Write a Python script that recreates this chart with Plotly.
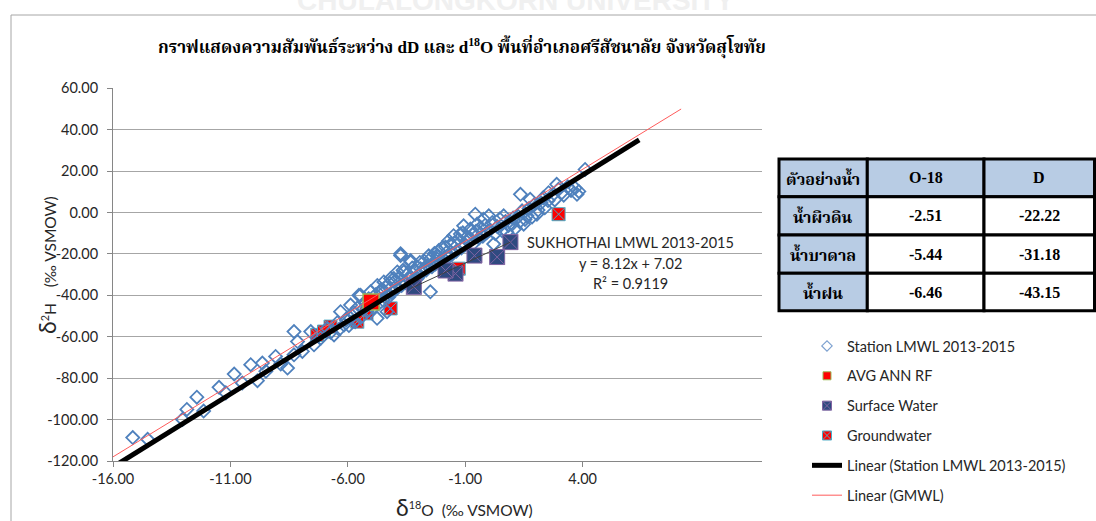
import plotly.graph_objects as go

W, H = 1096, 521

# ---------------- data ----------------
station_o18 = [
    -15.27, -14.72, -13.43, -13.27, -12.90, -12.65, -12.08, -11.83, -11.52, -11.22,
    -10.91, -10.66, -10.35, -10.48, -9.99, -9.80, -9.55, -9.31, -9.18, -9.31,
    -9.00, -8.69, -8.57, -8.32, -8.08, -7.83, -7.59, -7.46, -7.22, -6.91,
    -6.73, -6.24, -5.87, -5.37, -5.00, -5.62, -5.25, -4.76, -4.27, -4.51,
    -4.02, -5.87, -6.11,
    1.45, 1.15, 1.22, 0.40, 0.59, 0.10, -0.09, -0.33, -0.58, -0.70,
    -0.94, -0.82, -1.25, -1.56, -1.44, -1.93, -2.11, -2.30, -2.61, -2.54,
    -2.79, -3.04, -3.16, -3.41, -3.59, -3.71, -3.96, -4.02, -4.27, -4.39,
    -4.63, -5.00, -5.37, -5.49, -5.74, -5.99, -6.23, -6.48, -6.85, -7.22,
    -7.95, -7.71, -7.64, -7.38, -7.28, -7.12, -7.05, -6.97, -6.82, -6.68,
    -6.61, -6.55, -6.37, -6.29, -6.18, -6.09, -6.02, -5.93, -5.81, -5.78,
    -5.69, -5.58, -5.52, -5.41, -5.33, -5.28, -5.19, -5.11, -5.06, -4.94,
    -4.88, -4.81, -4.72, -4.66, -4.58, -4.49, -4.42, -4.33, -4.21, -4.12,
    -4.08, -3.98, -3.89, -3.82, -3.77, -3.68, -3.62, -3.51, -3.47, -3.38,
    -3.31, -3.22, -3.12, -3.07, -2.98, -2.91, -2.86, -2.72, -2.69, -2.58,
    -2.47, -2.41, -2.33, -2.24, -2.19, -2.07, -1.98, -1.87, -1.79, -1.71,
    -1.62, -1.49, -1.38, -1.21, -1.13, -1.02, -0.97, -0.88, -0.77, -0.62,
    -0.51, -0.44, -0.29, -0.18, -0.04, 0.08, 0.21, 0.33, 0.47, 0.66,
    0.81, 0.93, 1.08,
]
station_d = [
    -108.7, -109.5, -99.9, -95.1, -89.2, -95.9, -84.4, -87.1, -78.0, -82.3,
    -73.5, -81.2, -76.7, -72.7, -69.5, -73.2, -75.1, -57.5, -62.3, -68.7,
    -67.1, -57.5, -63.9, -60.7, -55.9, -59.1, -47.9, -54.3, -51.1, -40.0,
    -46.3, -51.1, -47.9, -20.8, -23.2, -31.9, -28.7, -31.9, -38.3, -27.1,
    -20.8, -40.0, -38.3,
    20.8, 8.8, 10.2, 13.6, 9.6, 9.6, 7.2, -0.8, 6.4, -1.6,
    8.8, -5.6, -5.6, -1.6, -9.5, -15.2, -1.6, -3.2, -0.8, -5.6,
    -8.0, -6.4, -10.4, -11.2, -13.6, -16.7, -18.4, -22.4, -22.4, -25.6,
    -27.1, -23.9, -19.9, -28.7, -31.9, -33.5, -35.2, -38.3, -40.0, -44.7,
    -57.8, -53.2, -56.4, -51.9, -54.6, -48.3, -52.7, -46.1, -50.4, -43.2,
    -47.8, -41.6, -45.9, -39.7, -44.1, -37.4, -42.3, -36.1, -40.8, -34.2,
    -38.6, -33.1, -36.9, -31.4, -35.2, -27.9, -33.8, -29.6, -31.7, -26.8,
    -32.4, -28.3, -30.6, -24.1, -29.2, -23.5, -27.8, -20.9, -26.2, -19.8,
    -24.9, -21.1, -24.3, -16.9, -22.6, -19.4, -21.8, -15.3, -20.2, -14.6,
    -18.7, -12.9, -17.1, -9.8, -15.6, -11.7, -13.4, -10.6, -15.1, -9.1,
    -12.3, -7.2, -11.5, -6.1, -9.7, -8.4, -4.8, -10.2, -6.9, -3.1,
    -8.8, -4.3, -6.2, -2.7, -7.6, -1.9, -4.4, 0.8, -3.3, 1.9,
    -2.1, 3.6, 1.2, 4.7, 2.3, 5.8, 7.9, 6.1, 11.2, 8.4,
    12.5, 10.7, 11.8,
]

surface_o18 = [-1.31, -1.80, -2.64, -3.34, -3.71, -4.88]
surface_d = [-14.3, -21.5, -20.8, -29.5, -28.0, -35.9]

ground_o18 = [0.47, -3.22, -5.74, -6.63, -6.97, -7.96, -8.45, -8.20]
ground_d = [-0.8, -27.1, -46.3, -48.7, -52.7, -55.1, -59.1, -57.5]

# thin fit through the surface-water samples
sw_line_o18 = [-5.00, -1.31]
sw_line_d = [-36.7, -14.3]

# local meteoric water line (regression on station data) and global line
lmwl_slope, lmwl_intercept, lmwl_r2 = 8.12, 7.02, 0.9119
lmwl_x = [-16.0, 3.45]
gmwl_slope, gmwl_intercept = 8.0, 10.0
gmwl_x = [-16.0, 5.0]

x_ticks = [-16, -11, -6, -1, 4]
y_ticks = [-120, -100, -80, -60, -40, -20, 0, 20, 40, 60]

table_header = ["ตัวอย่างน้ำ", "O-18", "D"]
table_samples = ["น้ำผิวดิน", "น้ำบาดาล", "น้ำฝน"]
table_o18 = [-2.51, -5.44, -6.46]
table_d = [-22.22, -31.18, -43.15]

# annual average rainfall point = last table row
rain_o18 = [table_o18[2]]
rain_d = [table_d[2]]

# ---------------- styling helpers ----------------
def fx(p):
    return p / W


def fy(p):
    return 1 - p / H


SANS = "Lato, 'Open Sans', sans-serif"
SERIF = "'Liberation Serif', 'Noto Serif Thai', 'Noto Sans Thai', serif"
TXT = "#262626"
BLUE = "#4F81BD"

fig = go.Figure()

# keeps the labelled bottom axis in the layout
fig.add_trace(go.Scatter(x=[None], y=[None], xaxis="x", yaxis="y", mode="markers",
                         showlegend=False, hoverinfo="skip"))

XD = "x2"  # data axis

fig.add_trace(go.Scatter(
    x=ground_o18, y=ground_d, xaxis=XD, yaxis="y", mode="markers",
    marker=dict(symbol="square-x", size=13, color="#FF0000",
                line=dict(color="#4BACC6", width=1)),
    showlegend=False, hoverinfo="skip"))

fig.add_trace(go.Scatter(
    x=station_o18, y=station_d, xaxis=XD, yaxis="y", mode="markers",
    marker=dict(symbol="diamond-open", size=10, color=BLUE,
                line=dict(color=BLUE, width=1.8)),
    showlegend=False, hoverinfo="skip"))

fig.add_trace(go.Scatter(
    x=rain_o18, y=rain_d, xaxis=XD, yaxis="y", mode="markers",
    marker=dict(symbol="square", size=16, color="#FF0000",
                line=dict(color="#9BBB59", width=1.5)),
    showlegend=False, hoverinfo="skip"))

fig.add_trace(go.Scatter(
    x=surface_o18, y=surface_d, xaxis=XD, yaxis="y", mode="markers",
    marker=dict(symbol="square-x", size=15, color="#2F4A80",
                line=dict(color="#8064A2", width=1)),
    showlegend=False, hoverinfo="skip"))

fig.add_trace(go.Scatter(
    x=sw_line_o18, y=sw_line_d, xaxis=XD, yaxis="y", mode="lines",
    line=dict(color="#404040", width=1), showlegend=False, hoverinfo="skip"))

gmwl_y = [gmwl_slope * v + gmwl_intercept for v in gmwl_x]
lmwl_y = [lmwl_slope * v + lmwl_intercept for v in lmwl_x]

fig.add_trace(go.Scatter(
    x=gmwl_x, y=gmwl_y, xaxis=XD, yaxis="y", mode="lines",
    line=dict(color="#FF5B5B", width=1), name="Linear (GMWL)",
    legendgroup="g6", legendrank=6, hoverinfo="skip"))

fig.add_trace(go.Scatter(
    x=lmwl_x, y=lmwl_y, xaxis=XD, yaxis="y", mode="lines",
    line=dict(color="#000000", width=5), name="Linear (Station LMWL 2013-2015)",
    legendgroup="g5", legendrank=5, hoverinfo="skip"))

# legend entries (smaller symbols than the plotted markers)
legend_items = [
    ("Station LMWL 2013-2015", dict(symbol="diamond-open", size=8, color="#7DA1D0",
                                    line=dict(color="#7DA1D0", width=1.2)), 1),
    ("AVG ANN RF", dict(symbol="square", size=8, color="#FF0000",
                        line=dict(color="#9BBB59", width=1)), 2),
    ("Surface Water", dict(symbol="square-x", size=9, color="#2F4A80",
                           line=dict(color="#8064A2", width=1)), 3),
    ("Groundwater", dict(symbol="square-x", size=9, color="#FF0000",
                         line=dict(color="#4BACC6", width=1)), 4),
]
for name, mk, rank in legend_items:
    fig.add_trace(go.Scatter(
        x=[None], y=[None], xaxis=XD, yaxis="y", mode="markers", marker=mk,
        name=name, legendgroup=f"g{rank}", legendrank=rank, showlegend=True))

# ---------------- table ----------------
col_edges = [779, 867.3, 984, 1094.5]
row_edges = [159, 196.7, 235, 273.3, 310.7]
HEAD_FILL = "#B8CCE4"
shapes = []
for r in range(4):
    for c in range(3):
        fill = HEAD_FILL if (r == 0 or c == 0) else "#FFFFFF"
        shapes.append(dict(
            type="rect", xref="paper", yref="paper",
            x0=fx(col_edges[c]), x1=fx(col_edges[c + 1]),
            y0=fy(row_edges[r + 1]), y1=fy(row_edges[r]),
            fillcolor=fill, line=dict(color="#000000", width=3), layer="above"))

annotations = []


def cell_text(r, c, text, size):
    annotations.append(dict(
        xref="paper", yref="paper",
        x=fx((col_edges[c] + col_edges[c + 1]) / 2),
        y=fy((row_edges[r] + row_edges[r + 1]) / 2),
        text=f"<b>{text}</b>", showarrow=False, xanchor="center", yanchor="middle",
        font=dict(family=SERIF, size=size, color="#000000")))


for c, t in enumerate(table_header):
    cell_text(0, c, t, 16)
for r in range(3):
    cell_text(r + 1, 0, table_samples[r], 16)
    cell_text(r + 1, 1, f"{table_o18[r]:.2f}", 16)
    cell_text(r + 1, 2, f"{table_d[r]:.2f}", 16)

# ---------------- titles & labels ----------------
annotations.append(dict(
    xref="paper", yref="paper", x=fx(462), y=fy(47),
    text="<b>กราฟแสดงความสัมพันธ์ระหว่าง dD และ d<sup>18</sup>O พื้นที่อำเภอศรีสัชนาลัย จังหวัดสุโขทัย</b>",
    showarrow=False, xanchor="center", yanchor="middle",
    font=dict(family=SERIF, size=17, color="#000000")))

annotations.append(dict(
    xref="paper", yref="paper", x=fx(515), y=fy(0),
    text="<b>CHULALONGKORN UNIVERSITY</b>", showarrow=False,
    xanchor="center", yanchor="middle",
    font=dict(family="'Liberation Sans', sans-serif", size=28, color="#F0F0F0")))

annotations.append(dict(
    xref="paper", yref="paper", x=fx(47), y=fy(265), textangle=-90,
    text="<span style='font-size:23px'>δ</span><sup>2</sup>H\u00a0\u00a0\u00a0 (‰ VSMOW)",
    showarrow=False, xanchor="center", yanchor="middle",
    font=dict(family=SANS, size=15.5, color=TXT)))

annotations.append(dict(
    xref="paper", yref="paper", x=fx(464), y=fy(507),
    text="<span style='font-size:23px'>δ</span><sup>18</sup>O\u00a0\u00a0(‰ VSMOW)",
    showarrow=False, xanchor="center", yanchor="middle",
    font=dict(family=SANS, size=15.5, color=TXT)))

eq_lines = [
    "SUKHOTHAI LMWL 2013-2015",
    f"y = {lmwl_slope:.2f}x + {lmwl_intercept:.2f}",
    f"R² = {lmwl_r2:.4f}",
]
for t, yy in zip(eq_lines, [242, 263, 283]):
    annotations.append(dict(
        xref="paper", yref="paper", x=fx(630), y=fy(yy), text=t,
        showarrow=False, xanchor="center", yanchor="middle",
        font=dict(family=SANS, size=14.5, color=TXT)))

# chart-area frame
shapes.append(dict(type="line", xref="paper", yref="paper",
                   x0=fx(11), x1=fx(11), y0=0, y1=fy(15),
                   line=dict(color="#A6A6A6", width=1)))
shapes.append(dict(type="line", xref="paper", yref="paper",
                   x0=fx(11), x1=1, y0=fy(15), y1=fy(15),
                   line=dict(color="#A6A6A6", width=1)))

AX = "#868686"
PLOT_X = [fx(113), fx(762.3)]
fig.update_layout(
    width=W, height=H,
    margin=dict(l=0, r=0, t=0, b=0, pad=0, autoexpand=False),
    paper_bgcolor="white", plot_bgcolor="white",
    showlegend=True,
    legend=dict(x=fx(807), y=fy(330), xanchor="left", yanchor="top",
                bgcolor="rgba(0,0,0,0)", font=dict(family=SANS, size=14.5, color=TXT),
                tracegroupgap=8, itemsizing="trace", traceorder="grouped"),
    xaxis=dict(domain=PLOT_X, range=[-16, 11.65], automargin=False,
               tickvals=x_ticks, ticktext=[f"{v:.2f}" for v in x_ticks],
               showgrid=False, zeroline=False,
               showline=True, linecolor=AX, linewidth=1, ticks="outside",
               ticklen=5, tickcolor=AX, anchor="y",
               tickfont=dict(family=SANS, size=14.5, color=TXT)),
    xaxis2=dict(domain=PLOT_X, range=[-16, 8], overlaying="x", anchor="y",
                visible=False, automargin=False),
    yaxis=dict(domain=[fy(461), fy(88.3)], range=[-120, 60], automargin=False,
               tickvals=y_ticks, ticktext=[f"{v:.2f}" for v in y_ticks],
               showgrid=True, gridcolor="#A6A6A6",
               gridwidth=1, zeroline=False, showline=True, linecolor=AX, linewidth=1,
               ticks="outside", ticklen=5, tickcolor=AX, anchor="x",
               ticklabelstandoff=6,
               tickfont=dict(family=SANS, size=14.5, color=TXT)),
    shapes=shapes, annotations=annotations,
)

fig.write_html("out.html")
